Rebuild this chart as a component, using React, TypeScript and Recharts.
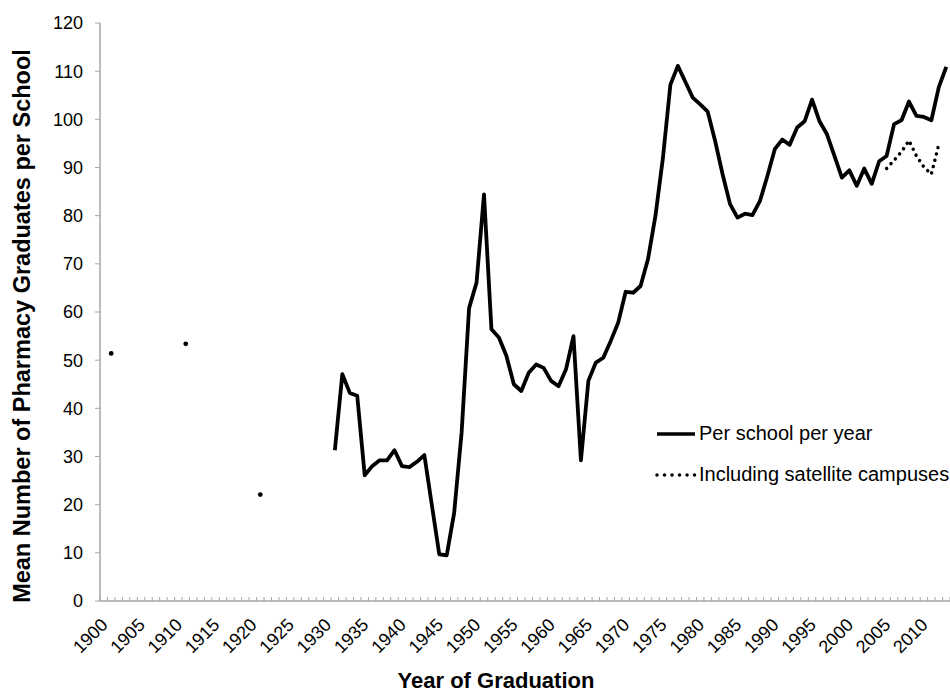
import React from 'react';
import { ComposedChart, Line, XAxis, YAxis, Legend } from 'recharts';

const FONT = '"Liberation Sans", Arial, Helvetica, sans-serif';
const AXIS = '#a6a6a6';

// a few isolated early years
const earlyYears = [1901, 1911, 1921];
const earlyValues = [51.4, 53.4, 22.1];

// continuous series, one value per year from 1931
const perSchoolStart = 1931;
const perSchoolValues = [
  31.3, 47.1, 43.2, 42.6, 26.1, 28.0, 29.2, 29.2, 31.3, 28.0, // 1931-1940
  27.8, 28.9, 30.3, 20.0, 9.7, 9.5, 18.3, 35.0, 60.8, 66.1, // 1941-1950
  84.4, 56.4, 54.7, 50.9, 45.0, 43.6, 47.4, 49.1, 48.4, 45.7, // 1951-1960
  44.6, 48.1, 55.0, 29.2, 45.7, 49.5, 50.5, 54.0, 57.8, 64.2, // 1961-1970
  64.0, 65.4, 71.0, 80.0, 92.0, 107.2, 111.1, 107.8, 104.5, 103.1, // 1971-1980
  101.6, 95.5, 88.6, 82.4, 79.6, 80.4, 80.1, 83.0, 88.2, 93.8, // 1981-1990
  95.8, 94.7, 98.3, 99.6, 104.1, 99.6, 96.9, 92.4, 87.9, 89.4, // 1991-2000
  86.2, 89.8, 86.6, 91.3, 92.4, 99.0, 99.8, 103.7, 100.7, 100.5, // 2001-2010
  99.8, 106.7, 110.9, // 2011-2013
];

const satelliteStart = 2005;
const satelliteValues = [89.8, 91.5, 93.3, 95.6, 92.4, 90.1, 88.6, 94.8];

const firstYear = 1900;
const lastYear = 2013;
const labelYears = [
  1900, 1905, 1910, 1915, 1920, 1925, 1930, 1935, 1940, 1945, 1950, 1955,
  1960, 1965, 1970, 1975, 1980, 1985, 1990, 1995, 2000, 2005, 2010,
];
const yTicks = [0, 10, 20, 30, 40, 50, 60, 70, 80, 90, 100, 110, 120];

const legendItems = [
  { name: 'Per school per year', dash: undefined as string | undefined },
  { name: 'Including satellite campuses', dash: '0.01 7.5' },
];

type Row = { year: number; perSchool: number | null; satellite: number | null };

const rows: Row[] = [];
for (let year = firstYear; year <= lastYear; year++) {
  const e = earlyYears.indexOf(year);
  let perSchool: number | null = e >= 0 ? earlyValues[e] : null;
  const pi = year - perSchoolStart;
  if (pi >= 0 && pi < perSchoolValues.length) perSchool = perSchoolValues[pi];
  const si = year - satelliteStart;
  const satellite = si >= 0 && si < satelliteValues.length ? satelliteValues[si] : null;
  rows.push({ year, perSchool, satellite });
}

// minor tick marks sit between the years, labels sit on the years
const xTicks: number[] = [];
for (let b = firstYear - 0.5; b <= lastYear + 0.5; b += 1) xTicks.push(b);
labelYears.forEach((y) => xTicks.push(y));
xTicks.sort((a, b) => a - b);

const XTick = (props: any) => {
  const { x, y, payload } = props;
  const v = payload.value;
  if (!Number.isInteger(v)) {
    return <line x1={x} x2={x} y1={y} y2={y - 4} stroke={AXIS} strokeWidth={1} />;
  }
  return (
    <g transform={`translate(${x + 5},${y + 25})`}>
      <text
        x={0}
        y={0}
        transform="rotate(-45)"
        textAnchor="end"
        fontSize={18}
        fontFamily={FONT}
        fill="#000"
      >
        {v}
      </text>
    </g>
  );
};

const isolatedDot = (p: any) => {
  const { cx, cy, index } = p;
  const cur = rows[index]?.perSchool;
  const prev = rows[index - 1]?.perSchool;
  const next = rows[index + 1]?.perSchool;
  if (cur != null && prev == null && next == null && cx != null && cy != null) {
    return <circle key={`dot-${index}`} cx={cx} cy={cy} r={2.4} fill="#000" />;
  }
  return <g key={`dot-${index}`} />;
};

const LegendBox = () => (
  <div style={{ fontFamily: FONT, fontSize: 20, color: '#000' }}>
    {legendItems.map((it) => (
      <div key={it.name} style={{ display: 'flex', alignItems: 'center', height: 41 }}>
        <svg width={44} height={12} style={{ marginRight: 1 }}>
          <line
            x1={3}
            x2={41}
            y1={6}
            y2={6}
            stroke="#000"
            strokeWidth={3.5}
            strokeDasharray={it.dash}
            strokeLinecap={it.dash ? 'round' : 'butt'}
          />
        </svg>
        <span style={{ whiteSpace: 'nowrap' }}>{it.name}</span>
      </div>
    ))}
  </div>
);

export default function App() {
  return (
    <div style={{ position: 'absolute', left: 0, top: 0, width: 950, height: 694, background: '#fff' }}>
      <ComposedChart width={950} height={694} data={rows} margin={{ top: 23, right: 0, bottom: 0, left: 0 }}>
        <XAxis
          dataKey="year"
          type="number"
          domain={[firstYear - 0.5, lastYear + 0.5]}
          ticks={xTicks}
          interval={0}
          tick={<XTick />}
          tickLine={false}
          tickSize={0}
          tickMargin={0}
          height={93}
          axisLine={{ stroke: AXIS, strokeWidth: 1.5 }}
          allowDataOverflow
          label={{
            value: 'Year of Graduation',
            position: 'insideBottom',
            offset: 6,
            dx: -29,
            style: { fontFamily: FONT, fontSize: 22, fontWeight: 'bold', fill: '#000' },
          }}
        />
        <YAxis
          domain={[0, 120]}
          ticks={yTicks}
          interval={0}
          width={100}
          tickSize={5}
          tickMargin={12}
          axisLine={{ stroke: AXIS, strokeWidth: 1.5 }}
          tickLine={{ stroke: AXIS }}
          tick={{ fontFamily: FONT, fontSize: 18, fill: '#000' }}
          label={{
            value: 'Mean Number of Pharmacy Graduates per School',
            angle: -90,
            position: 'center',
            dx: -28,
            dy: 14,
            style: { fontFamily: FONT, fontSize: 23.5, fontWeight: 'bold', fill: '#000', textAnchor: 'middle' },
          }}
        />
        <Legend
          layout="vertical"
          align="center"
          verticalAlign="middle"
          content={() => <LegendBox />}
          wrapperStyle={{ left: 654, top: 413, width: 300 }}
        />
        <Line
          dataKey="perSchool"
          stroke="#000"
          strokeWidth={3.8}
          strokeLinejoin="round"
          dot={isolatedDot}
          activeDot={false}
          connectNulls={false}
          isAnimationActive={false}
        />
        <Line
          dataKey="satellite"
          stroke="#000"
          strokeWidth={3.5}
          strokeDasharray="0.01 6.5"
          strokeLinecap="round"
          dot={false}
          activeDot={false}
          connectNulls={false}
          isAnimationActive={false}
        />
      </ComposedChart>
    </div>
  );
}
